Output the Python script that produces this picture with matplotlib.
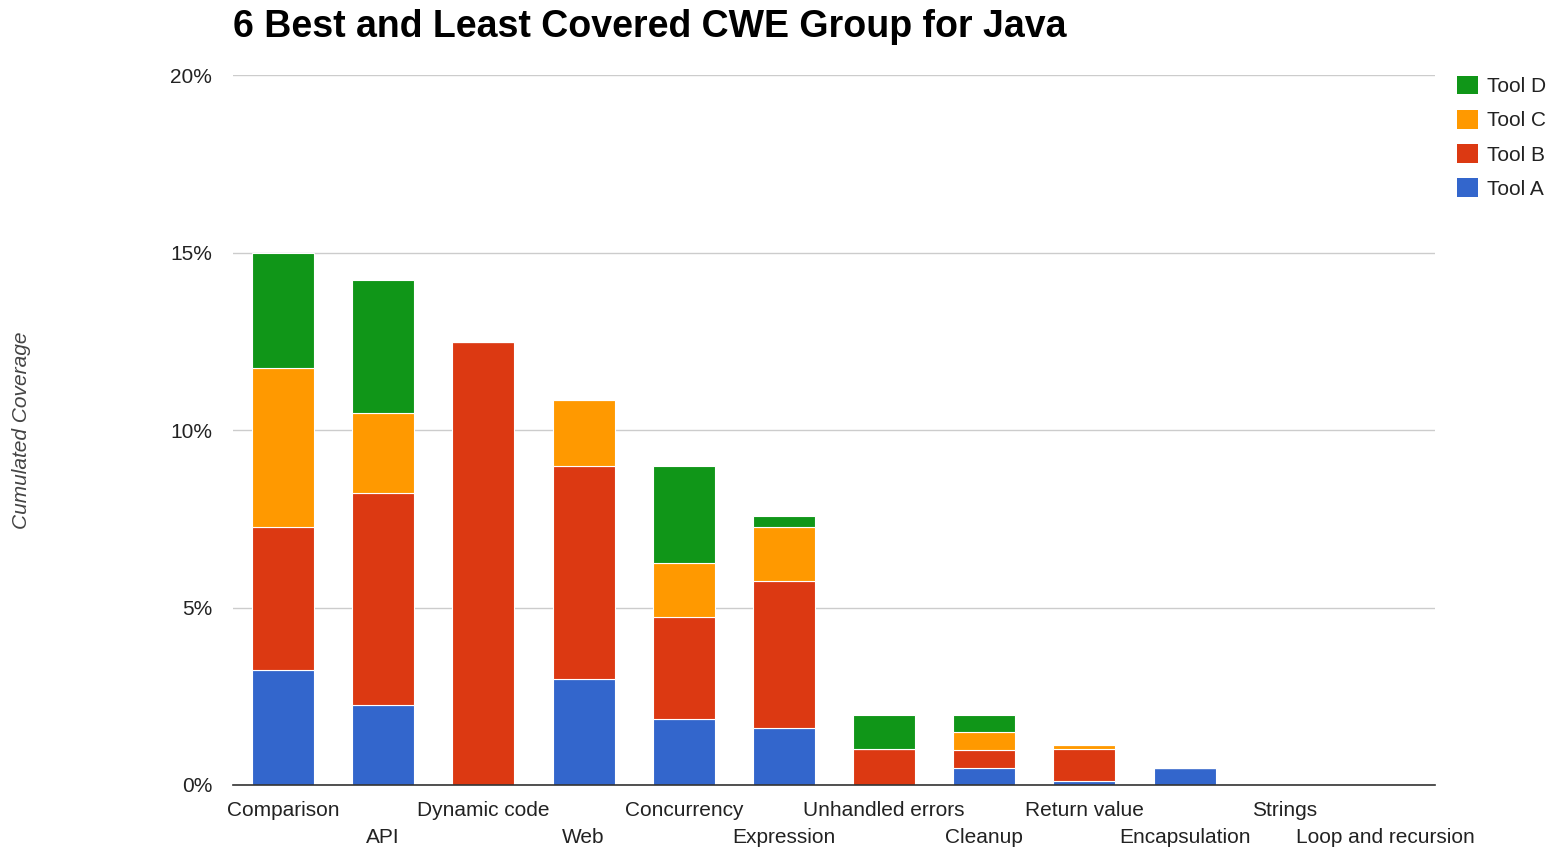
import numpy as np
import matplotlib
matplotlib.use('Agg')
from matplotlib import pyplot as plt
from matplotlib.patches import Patch
from matplotlib.transforms import blended_transform_factory

plt.rcParams['font.family'] = ['Liberation Sans', 'DejaVu Sans']

# values in percent
categories = ['Comparison', 'API', 'Dynamic code', 'Web', 'Concurrency', 'Expression',
              'Unhandled errors', 'Cleanup', 'Return value', 'Encapsulation', 'Strings',
              'Loop and recursion']
tool_a = [3.24, 2.25, 0.0, 2.99, 1.86, 1.61, 0.0, 0.48, 0.11, 0.48, 0.0, 0.0]
tool_b = [4.03, 5.98, 12.48, 6.00, 2.87, 4.14, 1.01, 0.51, 0.90, 0.0, 0.0, 0.0]
tool_c = [4.48, 2.25, 0.0, 1.86, 1.52, 1.52, 0.0, 0.50, 0.12, 0.0, 0.0, 0.0]
tool_d = [3.24, 3.75, 0.0, 0.0, 2.74, 0.31, 0.96, 0.48, 0.0, 0.0, 0.0, 0.0]
series_names = ['Tool A', 'Tool B', 'Tool C', 'Tool D']
colors = ['#3366cc', '#dc3912', '#ff9900', '#109618']
yticks = [0, 5, 10, 15, 20]

fig = plt.figure(figsize=(15.56, 8.49), dpi=100)
ax = fig.add_axes([233/1556, 64/849, 1202/1556, 710/849])

x = np.arange(len(categories))
bottom = np.zeros(len(categories))
for vals, name, c in zip([tool_a, tool_b, tool_c, tool_d], series_names, colors):
    vals = np.array(vals)
    ax.bar(x, vals, width=0.62, bottom=bottom, color=c, edgecolor='white',
           linewidth=0.8, label=name, zorder=3)
    bottom += vals

ax.set_xlim(-0.5, 11.5)
ax.set_ylim(0, 20)
ax.set_yticks(yticks)
ax.set_yticklabels([f'{t}%' for t in yticks], fontsize=15, color='#222222')
ax.set_xticks(x)
ax.set_xticklabels([])
ax.tick_params(axis='both', length=0)
ax.tick_params(axis='y', pad=15)

# staggered category labels
trans = blended_transform_factory(ax.transData, ax.transAxes)
for i, c in enumerate(categories):
    yy = -0.0366 if i % 2 == 0 else -0.0746
    ax.text(i, yy, c, transform=trans, ha='center', va='center', fontsize=15,
            color='#222222')

ax.grid(axis='y', color='#cccccc', linewidth=1, zorder=0)
for s in ['top', 'right', 'left']:
    ax.spines[s].set_visible(False)
ax.spines['bottom'].set_color('#333333')
ax.spines['bottom'].set_linewidth(1.2)
ax.spines['bottom'].set_zorder(4)

fig.text(233/1556, 1 - 27/849, '6 Best and Least Covered CWE Group for Java',
         fontsize=27, fontweight='bold', ha='left', va='center', color='black')
fig.text(22/1556, 1 - 430/849, 'Cumulated Coverage', rotation=90, style='italic',
         fontsize=15, color='#444444', ha='center', va='center')

handles = [Patch(facecolor=c, edgecolor='none') for c in colors][::-1]
fig.legend(handles, series_names[::-1], loc='upper left',
           bbox_to_anchor=(1438/1556, 1 - 57/849), frameon=False, fontsize=15,
           handlelength=1.0, handleheight=1.0, handletextpad=0.45, labelspacing=0.66,
           labelcolor='#222222')

fig.savefig('out.png', dpi=100)
